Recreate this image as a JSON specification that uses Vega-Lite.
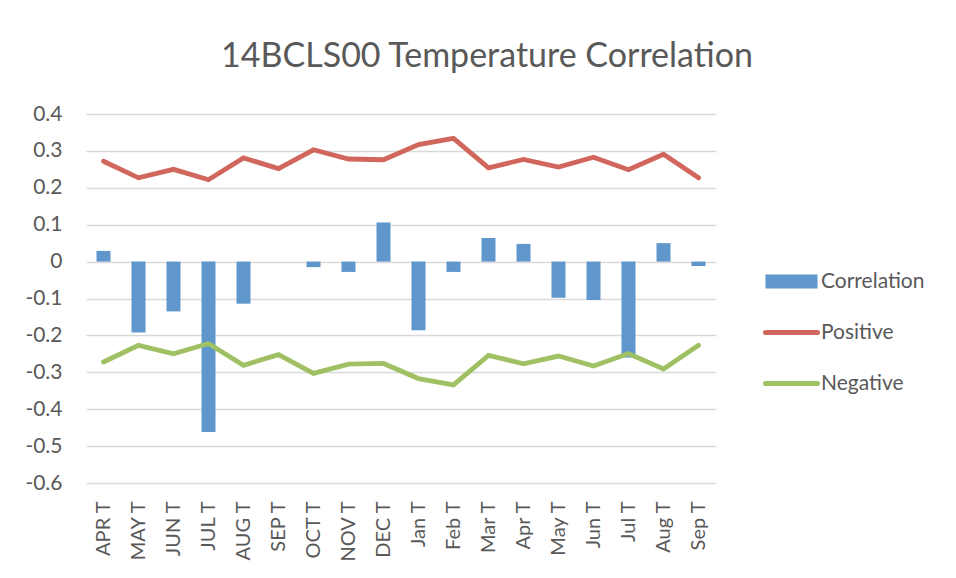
{
  "$schema": "https://vega.github.io/schema/vega-lite/v6.json",
  "autosize": "none",
  "width": 630,
  "height": 369,
  "padding": {"left": 86, "top": 114, "right": 240, "bottom": 95},
  "background": "white",
  "title": {
    "text": "14BCLS00 Temperature Correlation",
    "font": "Lato",
    "fontSize": 34,
    "fontWeight": "normal",
    "color": "#595959",
    "anchor": "middle",
    "dx": 86,
    "offset": 29
  },
  "data": {
    "values": [
      {"month": "APR T", "Correlation": 0.029, "Positive": 0.272, "Negative": -0.272},
      {"month": "MAY T", "Correlation": -0.192, "Positive": 0.227, "Negative": -0.227},
      {"month": "JUN T", "Correlation": -0.135, "Positive": 0.250, "Negative": -0.250},
      {"month": "JUL T", "Correlation": -0.462, "Positive": 0.222, "Negative": -0.222},
      {"month": "AUG T", "Correlation": -0.114, "Positive": 0.281, "Negative": -0.281},
      {"month": "SEP T", "Correlation": 0.0, "Positive": 0.252, "Negative": -0.252},
      {"month": "OCT T", "Correlation": -0.015, "Positive": 0.303, "Negative": -0.303},
      {"month": "NOV T", "Correlation": -0.028, "Positive": 0.278, "Negative": -0.278},
      {"month": "DEC T", "Correlation": 0.106, "Positive": 0.276, "Negative": -0.276},
      {"month": "Jan T", "Correlation": -0.186, "Positive": 0.317, "Negative": -0.317},
      {"month": "Feb T", "Correlation": -0.028, "Positive": 0.334, "Negative": -0.334},
      {"month": "Mar T", "Correlation": 0.064, "Positive": 0.254, "Negative": -0.254},
      {"month": "Apr T", "Correlation": 0.048, "Positive": 0.277, "Negative": -0.277},
      {"month": "May T", "Correlation": -0.098, "Positive": 0.256, "Negative": -0.256},
      {"month": "Jun T", "Correlation": -0.104, "Positive": 0.283, "Negative": -0.283},
      {"month": "Jul T", "Correlation": -0.260, "Positive": 0.249, "Negative": -0.249},
      {"month": "Aug T", "Correlation": 0.050, "Positive": 0.291, "Negative": -0.291},
      {"month": "Sep T", "Correlation": -0.012, "Positive": 0.227, "Negative": -0.227}
    ]
  },
  "encoding": {
    "x": {
      "field": "month",
      "type": "nominal",
      "sort": null,
      "scale": {"paddingInner": 0.6, "paddingOuter": 0.3},
      "axis": {
        "title": null,
        "labelAngle": -90,
        "labelFont": "Lato",
        "labelFontSize": 20,
        "labelColor": "#595959",
        "labelPadding": 18,
        "labelOverlap": false,
        "domain": false,
        "ticks": false,
        "grid": false
      }
    }
  },
  "layer": [
    {
      "mark": {"type": "bar"},
      "encoding": {
        "y": {
          "field": "Correlation",
          "type": "quantitative",
          "title": null,
          "scale": {"domain": [-0.6, 0.4], "nice": false, "zero": false}
        },
        "color": {
          "datum": "Correlation",
          "type": "nominal",
          "title": null,
          "scale": {
            "domain": ["Correlation", "Positive", "Negative"],
            "range": ["#5f97cc", "#d0665c", "#9fc163"]
          },
          "legend": {
            "title": null,
            "orient": "none",
            "legendX": 695,
            "legendY": 157,
            "symbolType": "stroke",
            "symbolSize": 2704,
            "symbolStrokeWidth": 5,
            "labelFont": "Lato",
            "labelFontSize": 21,
            "labelColor": "#595959",
            "labelOffset": 19,
            "rowPadding": 29,
            "encode": {
              "symbols": {
                "update": {
                  "shape": {"signal": "datum.label === 'Correlation' ? 'M-1,-0.27H1V0.27H-1Z' : 'stroke'"},
                  "fill": {"signal": "datum.label === 'Correlation' ? '#5f97cc' : 'transparent'"},
                  "strokeWidth": {"signal": "datum.label === 'Correlation' ? 0 : 5"},
                  "strokeCap": {"value": "round"}
                }
              }
            }
          }
        }
      }
    },
    {
      "transform": [{"fold": ["Positive", "Negative"], "as": ["series", "value"]}],
      "mark": {"type": "line", "strokeWidth": 4.8, "strokeJoin": "miter", "strokeCap": "round"},
      "encoding": {
        "y": {"field": "value", "type": "quantitative", "title": null},
        "color": {"field": "series", "type": "nominal", "title": null},
        "detail": {"field": "series"}
      }
    }
  ],
  "resolve": {"scale": {"color": "shared"}},
  "config": {
    "view": {"stroke": null},
    "legend": {"title": null},
    "axisY": {
      "values": [-0.6, -0.5, -0.4, -0.3, -0.2, -0.1, 0, 0.1, 0.2, 0.3, 0.4],
      "tickCount": 10,
      "labelExpr": "datum.value == 0 ? '0' : (datum.value < 0 ? '-' + format(-datum.value, '.1f') : format(datum.value, '.1f'))",
      "labelFont": "Lato",
      "labelFontSize": 21,
      "labelColor": "#595959",
      "labelPadding": 24,
      "labelOverlap": false,
      "domain": false,
      "ticks": false,
      "grid": true,
      "gridColor": "#d9d9d9",
      "gridWidth": 1.3
    }
  }
}
